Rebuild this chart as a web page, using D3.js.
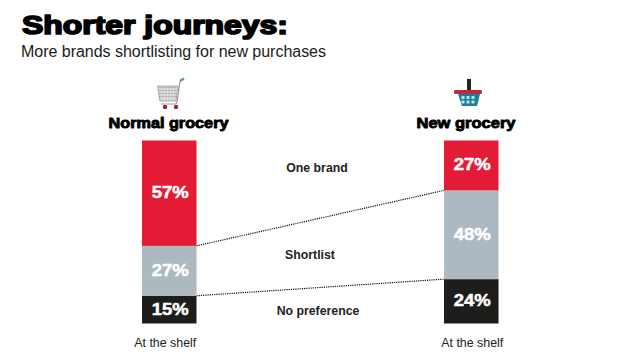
<!DOCTYPE html>
<html><head><meta charset="utf-8">
<script src="https://cdn.jsdelivr.net/npm/d3@7"></script>
<style>html,body{margin:0;padding:0;background:#fff}svg{display:block}text{font-family:"Liberation Sans",Arial,sans-serif}</style>
</head><body><svg id="c" width="638" height="359"></svg>
<script>
const groups=["Normal grocery","New grocery"];
const segments=["No preference","Shortlist","One brand"];
const noPreference=[15,24];
const shortlist=[27,48];
const oneBrand=[57,27];
const axisLabels=["At the shelf","At the shelf"];
const colors=["#1d1d1b","#adb9c0","#e31b35"];
const title="Shorter journeys:";
const subtitle="More brands shortlisting for new purchases";

const svg=d3.select("#c");
const heavy=(s,sw)=>s.attr("font-weight","700").attr("stroke","#000").attr("stroke-width",sw).attr("stroke-linejoin","round").attr("fill","#000");
heavy(svg.append("text").attr("x",22).attr("y",33.5).attr("font-size",26).attr("textLength",266).attr("lengthAdjust","spacingAndGlyphs").text(title),1.7);
svg.append("text").attr("x",21).attr("y",57).attr("font-size",16).attr("fill","#1a1a1a").attr("textLength",305).text(subtitle);

const x=d3.scaleOrdinal().domain(groups).range([142,444]);
const barW=54.5;
const y=d3.scaleLinear().domain([0,99]).range([323.5,140.5]);
const table=groups.map((g,i)=>({g,vals:[noPreference[i],shortlist[i],oneBrand[i]]}));
const stack=d3.stack().keys([0,1,2]).value((d,k)=>d.vals[k])(table);

[0,1].forEach(k=>{
  svg.append("line")
    .attr("x1",x(groups[0])+barW).attr("x2",x(groups[1]))
    .attr("y1",y(stack[k][0][1])).attr("y2",y(stack[k][1][1]))
    .attr("stroke","#111").attr("stroke-width",1.2).attr("stroke-dasharray","1.2 1");
});

stack.forEach((layer,k)=>{
  layer.forEach(d=>{
    const g=d.data.g;
    svg.append("rect").attr("x",x(g)).attr("width",barW)
      .attr("y",y(d[1])).attr("height",y(d[0])-y(d[1])).attr("fill",colors[k]);
    svg.append("text").attr("x",x(g)+barW/2+1).attr("y",(y(d[0])+y(d[1]))/2+5)
      .attr("text-anchor","middle").attr("font-size",16.5).attr("font-weight","700")
      .attr("textLength",37).attr("lengthAdjust","spacingAndGlyphs")
      .attr("fill","#fff").attr("stroke","#fff").attr("stroke-width",0.5).text(d.data.vals[k]+"%");
  });
});

const groupLabelX=[168.5,466];
const groupLabelW=[121,100];
groups.forEach((g,i)=>{
  heavy(svg.append("text").attr("x",groupLabelX[i]).attr("y",127.5).attr("text-anchor","middle")
    .attr("font-size",14.5).attr("textLength",groupLabelW[i]-1).attr("lengthAdjust","spacingAndGlyphs").text(g),0.9);
  svg.append("text").attr("x",x(g)+barW/2-(i?-1:4)).attr("y",347).attr("text-anchor","middle")
    .attr("font-size",12.4).attr("fill","#222").text(axisLabels[i]);
});

const segLabelX=[318,310,317];
const segLabelY=[315,258.5,172];
segments.forEach((s,i)=>svg.append("text").attr("x",segLabelX[i]).attr("y",segLabelY[i])
  .attr("text-anchor","middle").attr("font-size",12.3).attr("font-weight","700").attr("fill","#222").text(s));

// shopping cart icon
const cart=svg.append("g");
const gridX=d3.range(159,176,3), gridY=d3.range(87,99,3);
cart.append("path").attr("d","M157.5 86H178L176 101H160Z").attr("fill","#e4e4e4").attr("stroke","#9a9a9a").attr("stroke-width",.8);
gridX.forEach(v=>cart.append("line").attr("x1",v+1).attr("x2",v+1).attr("y1",86).attr("y2",101).attr("stroke","#a5a5a5").attr("stroke-width",.6));
gridY.forEach(v=>cart.append("line").attr("x1",158).attr("x2",177.5).attr("y1",v+.5).attr("y2",v+.5).attr("stroke","#a5a5a5").attr("stroke-width",.6));
cart.append("path").attr("d","M180 81L177 102L176 104H161").attr("fill","none").attr("stroke","#9a9a9a").attr("stroke-width",1.2);
cart.append("path").attr("d","M180 81L184 78.5").attr("stroke","#4d9aa8").attr("stroke-width",2.2);
[[165,107],[176,107]].forEach(c=>cart.append("circle").attr("cx",c[0]).attr("cy",c[1]).attr("r",2.2).attr("fill","#8c2a36"));

// basket icon
const basket=svg.append("g");
basket.append("rect").attr("x",467).attr("y",79).attr("width",4).attr("height",13).attr("fill","#222");
basket.append("path").attr("d","M458 94H480L477 106H462Z").attr("fill","#17819a");
basket.append("rect").attr("x",454).attr("y",90).attr("width",28).attr("height",4).attr("rx",1.5).attr("fill","#c0283c");
[[461.5,96],[466.5,96],[471.5,96],[461.5,100.5],[466.5,100.5],[471.5,100.5]].forEach(p=>basket.append("rect").attr("x",p[0]).attr("y",p[1]).attr("width",3).attr("height",3).attr("fill","#bfe0e6"));
</script></body></html>
